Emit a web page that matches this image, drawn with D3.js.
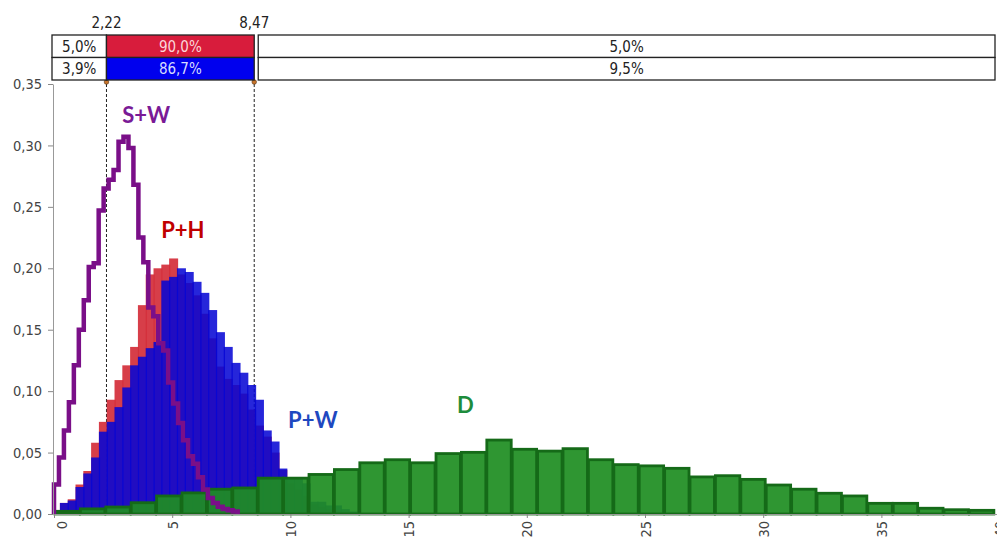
<!DOCTYPE html>
<html>
<head>
<meta charset="utf-8">
<script src="https://cdn.jsdelivr.net/npm/d3@7"></script>
<style>
body { margin: 0; background: #fff; }
svg { display: block; font-family: "DejaVu Sans", sans-serif; }
</style>
</head>
<body>
<svg id="chart" width="997" height="541"></svg>
<script>
// S+W histogram (outline only), 37 bins from 0
var swStart = 0, swWidth = 0.21;
var swValues = [0.024, 0.046, 0.068, 0.091, 0.121, 0.150, 0.174, 0.201, 0.204, 0.247,
                0.265, 0.272, 0.280, 0.303, 0.307, 0.298, 0.268, 0.225, 0.205, 0.168,
                0.161, 0.139, 0.133, 0.107, 0.090, 0.074, 0.060, 0.047, 0.041, 0.030,
                0.020, 0.013, 0.009, 0.006, 0.004, 0.003, 0.002];

// P+H and P+W share the bin grid
var pStart = 0.25, pWidth = 0.33;
var phValues = [0.009, 0.012, 0.024, 0.035, 0.058, 0.075, 0.093, 0.109, 0.121, 0.136,
                0.170, 0.195, 0.200, 0.203, 0.208, 0.195, 0.188, 0.178, 0.163, 0.143,
                0.120, 0.110, 0.105, 0.098, 0.085, 0.072, 0.063, 0.050, 0.036, 0.025,
                0.020, 0.015, 0.008, 0.006, 0.004, 0.003, 0.002, 0.001];
var pwValues = [0.009, 0.011, 0.022, 0.033, 0.046, 0.067, 0.075, 0.087, 0.103, 0.121,
                0.128, 0.135, 0.140, 0.190, 0.193, 0.200, 0.197, 0.189, 0.180, 0.166,
                0.148, 0.136, 0.123, 0.115, 0.105, 0.093, 0.068, 0.059, 0.037, 0.030,
                0.030, 0.025, 0.010, 0.010, 0.007, 0.007, 0.004, 0.002];

// D histogram, 37 bins from 0
var dStart = 0, dWidth = 1.0745;
var dValues = [0.003, 0.005, 0.0065, 0.010, 0.0155, 0.018, 0.021, 0.022, 0.030, 0.030,
               0.033, 0.037, 0.0425, 0.045, 0.0425, 0.050, 0.051, 0.061, 0.0535, 0.052,
               0.054, 0.045, 0.041, 0.040, 0.038, 0.031, 0.032, 0.029, 0.0244, 0.021,
               0.0177, 0.0155, 0.0095, 0.0095, 0.0055, 0.0043, 0.0038];

// axes
var xTicks = [0, 5, 10, 15, 20, 25, 30, 35, 40];
var yTicks = [0, 0.05, 0.10, 0.15, 0.20, 0.25, 0.30, 0.35];

// interval band on top
var bandBounds = [2.22, 8.47];
var bandBoundLabels = ["2,22", "8,47"];
var bandRow1 = ["5,0%", "90,0%", "5,0%"];
var bandRow2 = ["3,9%", "86,7%", "9,5%"];

var labels = [
  {text: "S+W", x: 3.9, y: 0.318, color: "#7a1a96"},
  {text: "P+H", x: 5.45, y: 0.225, color: "#c00000"},
  {text: "P+W", x: 10.95, y: 0.070, color: "#1f48c0"},
  {text: "D", x: 17.4, y: 0.082, color: "#1e8c3c"}
];

var svg = d3.select("#chart");
var x = d3.scaleLinear().domain([0, 40]).range([54, 999.6]);
var y = d3.scaleLinear().domain([0, 0.35]).range([514, 84]);
var fmt = function(d) { return d3.format(".2f")(d).replace(".", ","); };

function bins(values, start, width) {
  return values.map(function(v, i) {
    return {x0: start + i * width, x1: start + (i + 1) * width, v: v};
  });
}

// dashed markers under the bars
svg.selectAll("line.mark")
  .data(bandBounds)
  .enter().append("line")
  .attr("class", "mark")
  .attr("x1", function(d) { return x(d); })
  .attr("x2", function(d) { return x(d); })
  .attr("y1", y(0.35))
  .attr("y2", y(0))
  .attr("stroke", "#222")
  .attr("stroke-width", 1)
  .attr("stroke-dasharray", "3,2");

function drawBars(data, fill, opacity, cls) {
  svg.append("g").attr("class", cls)
    .selectAll("rect")
    .data(data)
    .enter().append("rect")
    .attr("x", function(d) { return x(d.x0); })
    .attr("width", function(d) { return x(d.x1) - x(d.x0) + 1.2; })
    .attr("y", function(d) { return y(d.v); })
    .attr("height", function(d) { return y(0) - y(d.v); })
    .attr("fill", fill)
    .attr("fill-opacity", opacity);
}

drawBars(bins(phValues, pStart, pWidth), "#d42e3a", 0.92, "ph");
drawBars(bins(pwValues, pStart, pWidth), "#0606d4", 0.87, "pw");

// D bars with dark edges
svg.append("g").attr("class", "d")
  .selectAll("rect")
  .data(bins(dValues, dStart, dWidth))
  .enter().append("rect")
  .attr("x", function(d) { return x(d.x0) + 1; })
  .attr("width", function(d) { return x(d.x1) - x(d.x0) - 1; })
  .attr("y", function(d) { return y(d.v) + 1; })
  .attr("height", function(d) { return Math.max(0, y(0) - y(d.v) - 1); })
  .attr("fill", "#1f8e22")
  .attr("fill-opacity", 0.93)
  .attr("stroke", "#156a18")
  .attr("stroke-width", 2.8);

// S+W step outline
var swPts = [[swStart, 0]];
bins(swValues, swStart, swWidth).forEach(function(b) {
  swPts.push([b.x0, b.v]);
  swPts.push([b.x1, b.v]);
});
swPts.push([swStart + swValues.length * swWidth, 0]);
svg.append("path")
  .datum(swPts)
  .attr("fill", "none")
  .attr("stroke", "#7a0f88")
  .attr("stroke-width", 4.5)
  .attr("stroke-linejoin", "miter")
  .attr("d", d3.line().x(function(d) { return x(d[0]); }).y(function(d) { return y(d[1]); }));

// y axis
var yAxis = svg.append("g")
  .attr("transform", "translate(" + 53 + ",0)")
  .call(d3.axisLeft(y).tickValues(yTicks).tickFormat(fmt).tickSize(5).tickSizeOuter(0));
yAxis.select(".domain").attr("stroke", "#999");
yAxis.selectAll(".tick line").attr("stroke", "#888");
yAxis.selectAll("text").attr("fill", "#444").attr("font-size", 14.5).attr("x", -11)
  .attr("font-family", "'DejaVu Sans Condensed', 'DejaVu Sans', sans-serif");

// x axis
var xAxis = svg.append("g")
  .attr("transform", "translate(0," + y(0) + ")")
  .call(d3.axisBottom(x).tickValues(xTicks).tickSize(4).tickSizeOuter(0));
xAxis.select(".domain").attr("stroke", "#999");
xAxis.selectAll(".tick line").attr("stroke", "#888");
xAxis.selectAll("text")
  .attr("fill", "#444")
  .attr("font-size", 14.5)
  .attr("font-family", "'DejaVu Sans Condensed', 'DejaVu Sans', sans-serif")
  .attr("transform", function(d) { return "rotate(-90)translate(0," + (d === 0 ? 7 : 0) + ")"; })
  .attr("text-anchor", "end")
  .attr("x", -7)
  .attr("y", 0)
  .attr("dy", "0.35em");

// small dots at the band bounds
svg.selectAll("circle.bound")
  .data(bandBounds)
  .enter().append("circle")
  .attr("class", "bound")
  .attr("cx", function(d) { return x(d); })
  .attr("cy", 82)
  .attr("r", 2.3)
  .attr("fill", "#c8742a")
  .attr("stroke", "#553310")
  .attr("stroke-width", 0.6);

// interval band
var bandLeft = 52, bandRight = 995, gap = 4;
var rowTop = [35, 57.5], rowH = 22.5;
var rows = [bandRow1, bandRow2];
var midFill = ["#d81c3c", "#0000ee"];
var midText = ["#fbd6da", "#d6dcff"];
rows.forEach(function(row, r) {
  var cells = [
    {x0: bandLeft, x1: x(bandBounds[0]), fill: "#fff", tc: "#222"},
    {x0: x(bandBounds[0]), x1: x(bandBounds[1]), fill: midFill[r], tc: midText[r]},
    {x0: x(bandBounds[1]) + gap, x1: bandRight, fill: "#fff", tc: "#222"}
  ];
  cells.forEach(function(c, i) {
    svg.append("rect")
      .attr("x", c.x0).attr("y", rowTop[r])
      .attr("width", c.x1 - c.x0).attr("height", rowH)
      .attr("fill", c.fill)
      .attr("stroke", "#222").attr("stroke-width", 1.3);
    svg.append("text")
      .attr("x", (c.x0 + c.x1) / 2)
      .attr("y", rowTop[r] + rowH / 2 + 5.5)
      .attr("text-anchor", "middle")
      .attr("font-size", 15)
      .attr("font-family", "'DejaVu Sans Condensed', 'DejaVu Sans', sans-serif")
      .attr("fill", c.tc)
      .text(row[i]);
  });
});

svg.selectAll("text.bound")
  .data(bandBounds)
  .enter().append("text")
  .attr("class", "bound")
  .attr("x", function(d) { return x(d); })
  .attr("y", 28)
  .attr("text-anchor", "middle")
  .attr("font-size", 15)
  .attr("font-family", "'DejaVu Sans Condensed', 'DejaVu Sans', sans-serif")
  .attr("fill", "#222")
  .text(function(d, i) { return bandBoundLabels[i]; });

// series labels
svg.selectAll("text.series")
  .data(labels)
  .enter().append("text")
  .attr("class", "series")
  .attr("x", function(d) { return x(d.x); })
  .attr("y", function(d) { return y(d.y); })
  .attr("text-anchor", "middle")
  .attr("font-family", "Lato, 'Open Sans', sans-serif")
  .attr("font-weight", "bold")
  .attr("font-size", 22)
  .attr("fill", function(d) { return d.color; })
  .text(function(d) { return d.text; });
</script>
</body>
</html>
